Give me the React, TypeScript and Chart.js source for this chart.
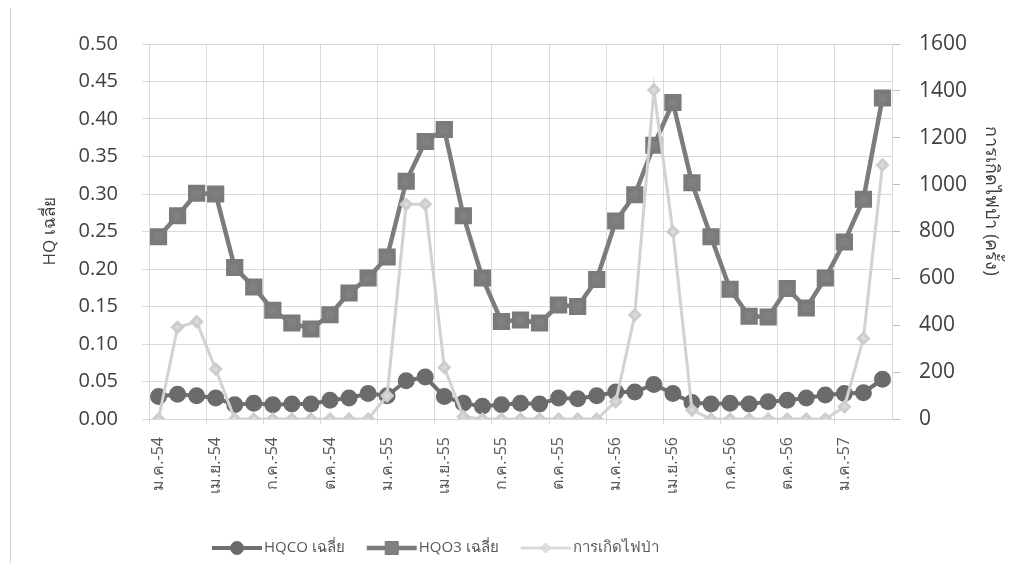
import React, { useEffect, useRef } from "react";
import { Chart, registerables } from "chart.js";

Chart.register(...registerables);

const categories = [
  "ม.ค.-54", "ก.พ.-54", "มี.ค.-54", "เม.ย.-54", "พ.ค.-54", "มิ.ย.-54", "ก.ค.-54", "ส.ค.-54", "ก.ย.-54", "ต.ค.-54", "พ.ย.-54", "ธ.ค.-54",
  "ม.ค.-55", "ก.พ.-55", "มี.ค.-55", "เม.ย.-55", "พ.ค.-55", "มิ.ย.-55", "ก.ค.-55", "ส.ค.-55", "ก.ย.-55", "ต.ค.-55", "พ.ย.-55", "ธ.ค.-55",
  "ม.ค.-56", "ก.พ.-56", "มี.ค.-56", "เม.ย.-56", "พ.ค.-56", "มิ.ย.-56", "ก.ค.-56", "ส.ค.-56", "ก.ย.-56", "ต.ค.-56", "พ.ย.-56", "ธ.ค.-56",
  "ม.ค.-57", "ก.พ.-57", "มี.ค.-57",
];

const hqcoAvg = [
  0.030, 0.033, 0.031, 0.028, 0.019, 0.021, 0.019, 0.020, 0.020, 0.025, 0.028, 0.034,
  0.031, 0.051, 0.056, 0.030, 0.021, 0.017, 0.019, 0.021, 0.020, 0.028, 0.027, 0.031,
  0.036, 0.036, 0.046, 0.034, 0.022, 0.020, 0.021, 0.020, 0.023, 0.025, 0.028, 0.032,
  0.034, 0.035, 0.053,
];

const hqo3Avg = [
  0.243, 0.271, 0.301, 0.300, 0.202, 0.176, 0.145, 0.128, 0.120, 0.139, 0.168, 0.188,
  0.216, 0.317, 0.370, 0.386, 0.271, 0.188, 0.130, 0.132, 0.128, 0.152, 0.150, 0.186,
  0.264, 0.299, 0.365, 0.422, 0.315, 0.243, 0.173, 0.137, 0.136, 0.174, 0.148, 0.188,
  0.236, 0.293, 0.428,
];

const fireCount = [
  0, 391, 415, 213, 0, 0, 0, 0, 0, 0, 0, 0,
  99, 916, 916, 220, 10, 0, 0, 0, 0, 0, 0, 0,
  74, 444, 1404, 799, 38, 0, 0, 0, 0, 0, 0, 0,
  52, 344, 1084,
];

const seriesNames = ["HQCO เฉลี่ย", "HQO3 เฉลี่ย", "การเกิดไฟป่า"];
const leftTitle = "HQ เฉลี่ย";
const rightTitle = "การเกิดไฟป่า (ครั้ง)";

const FONT = "'Open Sans', 'Noto Sans', sans-serif";

const legendPlugin = {
  id: "excelLegend",
  afterDraw(chart: any) {
    const ctx = chart.ctx as CanvasRenderingContext2D;
    const y = 540;
    let x = 204;
    const order = [0, 1, 2];
    ctx.save();
    ctx.font = `15px ${FONT}`;
    ctx.textBaseline = "middle";
    for (const i of order) {
      const ds = chart.data.datasets[i];
      const lineLen = 50;
      ctx.strokeStyle = ds.borderColor;
      ctx.lineWidth = ds.borderWidth;
      ctx.globalAlpha = i === 2 ? 0.8 : 1;
      ctx.beginPath();
      ctx.moveTo(x, y);
      ctx.lineTo(x + lineLen, y);
      ctx.stroke();
      ctx.fillStyle = ds.pointBackgroundColor;
      ctx.strokeStyle = ds.pointBorderColor;
      ctx.lineWidth = 1;
      const cx = x + lineLen / 2;
      ctx.beginPath();
      if (ds.pointStyle === "circle") {
        ctx.arc(cx, y, 6.5, 0, Math.PI * 2);
      } else if (ds.pointStyle === "rect") {
        ctx.rect(cx - 6.5, y - 6.5, 13, 13);
      } else {
        ctx.moveTo(cx - 5, y);
        ctx.lineTo(cx, y - 5);
        ctx.lineTo(cx + 5, y);
        ctx.lineTo(cx, y + 5);
        ctx.closePath();
      }
      ctx.fill();
      ctx.stroke();
      ctx.globalAlpha = 1;
      ctx.fillStyle = "#595959";
      ctx.textAlign = "left";
      ctx.fillText(ds.label, x + lineLen + 2, y);
      x += lineLen + 2 + ctx.measureText(ds.label).width + 22;
    }
    ctx.restore();
  },
};

export default function App() {
  const canvasRef = useRef<HTMLCanvasElement | null>(null);

  useEffect(() => {
    if (!canvasRef.current) return;
    const chart = new Chart(canvasRef.current, {
      type: "line",
      data: {
        labels: categories,
        datasets: [
          {
            label: seriesNames[0],
            data: hqcoAvg,
            yAxisID: "y",
            borderColor: "#6f6f6f",
            borderWidth: 4,
            pointStyle: "circle",
            pointRadius: 6.5,
            pointBackgroundColor: "#6b6b6b",
            pointBorderColor: "#6b6b6b",
            tension: 0,
            order: 2,
          },
          {
            label: seriesNames[1],
            data: hqo3Avg,
            yAxisID: "y",
            borderColor: "#7c7c7c",
            borderWidth: 4.5,
            pointStyle: "rect",
            pointRadius: 9,
            pointBackgroundColor: "#808080",
            pointBorderColor: "#7a7a7a",
            tension: 0,
            order: 1,
          },
          {
            label: seriesNames[2],
            data: fireCount,
            yAxisID: "y1",
            borderColor: "#d2d2d2",
            borderWidth: 3,
            pointStyle: "rectRot",
            pointRadius: 5,
            pointBackgroundColor: "#dadada",
            pointBorderColor: "#cdcdcd",
            tension: 0,
            order: 0,
          },
        ],
      },
      options: {
        animation: false,
        responsive: true,
        maintainAspectRatio: false,
        layout: { padding: { top: 36, left: 0, right: 0, bottom: 0 } },
        plugins: {
          legend: { display: false },
          tooltip: { enabled: false },
        },
        scales: {
          x: {
            offset: true,
            grid: {
              offset: true,
              tickLength: 5,
              color: (c: any) => (c.index % 3 === 0 ? "#d9d9d9" : "rgba(0,0,0,0)"),
            },
            border: { color: "#d9d9d9" },
            ticks: {
              autoSkip: false,
              minRotation: 90,
              maxRotation: 90,
              padding: 13,
              color: "#595959",
              font: { family: FONT, size: 16 },
              callback: (_v: any, i: number) => (i % 3 === 0 ? categories[i] : ""),
            },
            afterFit: (s: any) => {
              s.height = 144;
            },
          },
          y: {
            position: "left",
            min: 0,
            max: 0.5,
            grid: { color: "#d9d9d9", tickLength: 7 },
            border: { color: "#d9d9d9" },
            ticks: {
              stepSize: 0.05,
              padding: 24,
              color: "#404040",
              font: { family: FONT, size: 20 },
              callback: (v: any) => Number(v).toFixed(2),
            },
            title: {
              display: true,
              text: leftTitle,
              color: "#404040",
              font: { family: FONT, size: 17 },
              padding: { top: 32, bottom: 0 },
            },
            afterFit: (s: any) => {
              s.width = 141;
            },
          },
          y1: {
            position: "right",
            min: 0,
            max: 1600,
            grid: { drawOnChartArea: false, color: "#bfbfbf", tickLength: 8 },
            border: { color: "#d9d9d9" },
            ticks: {
              stepSize: 200,
              padding: 19,
              color: "#404040",
              font: { family: FONT, size: 21 },
              callback: (v: any) => String(v),
            },
            title: {
              display: true,
              text: rightTitle + "             ",
              color: "#404040",
              font: { family: FONT, size: 18 },
              padding: { top: 17, bottom: 0 },
            },
            afterFit: (s: any) => {
              s.width = 127;
            },
          },
        },
      },
      plugins: [legendPlugin],
    } as any);
    return () => chart.destroy();
  }, []);

  return (
    <div style={{ position: "relative", width: 1011, height: 555 }}>
      <div
        style={{
          position: "absolute",
          left: 2,
          top: 0,
          width: 1,
          height: 555,
          background: "#d0d0d0",
        }}
      />
      <canvas ref={canvasRef} />
    </div>
  );
}
